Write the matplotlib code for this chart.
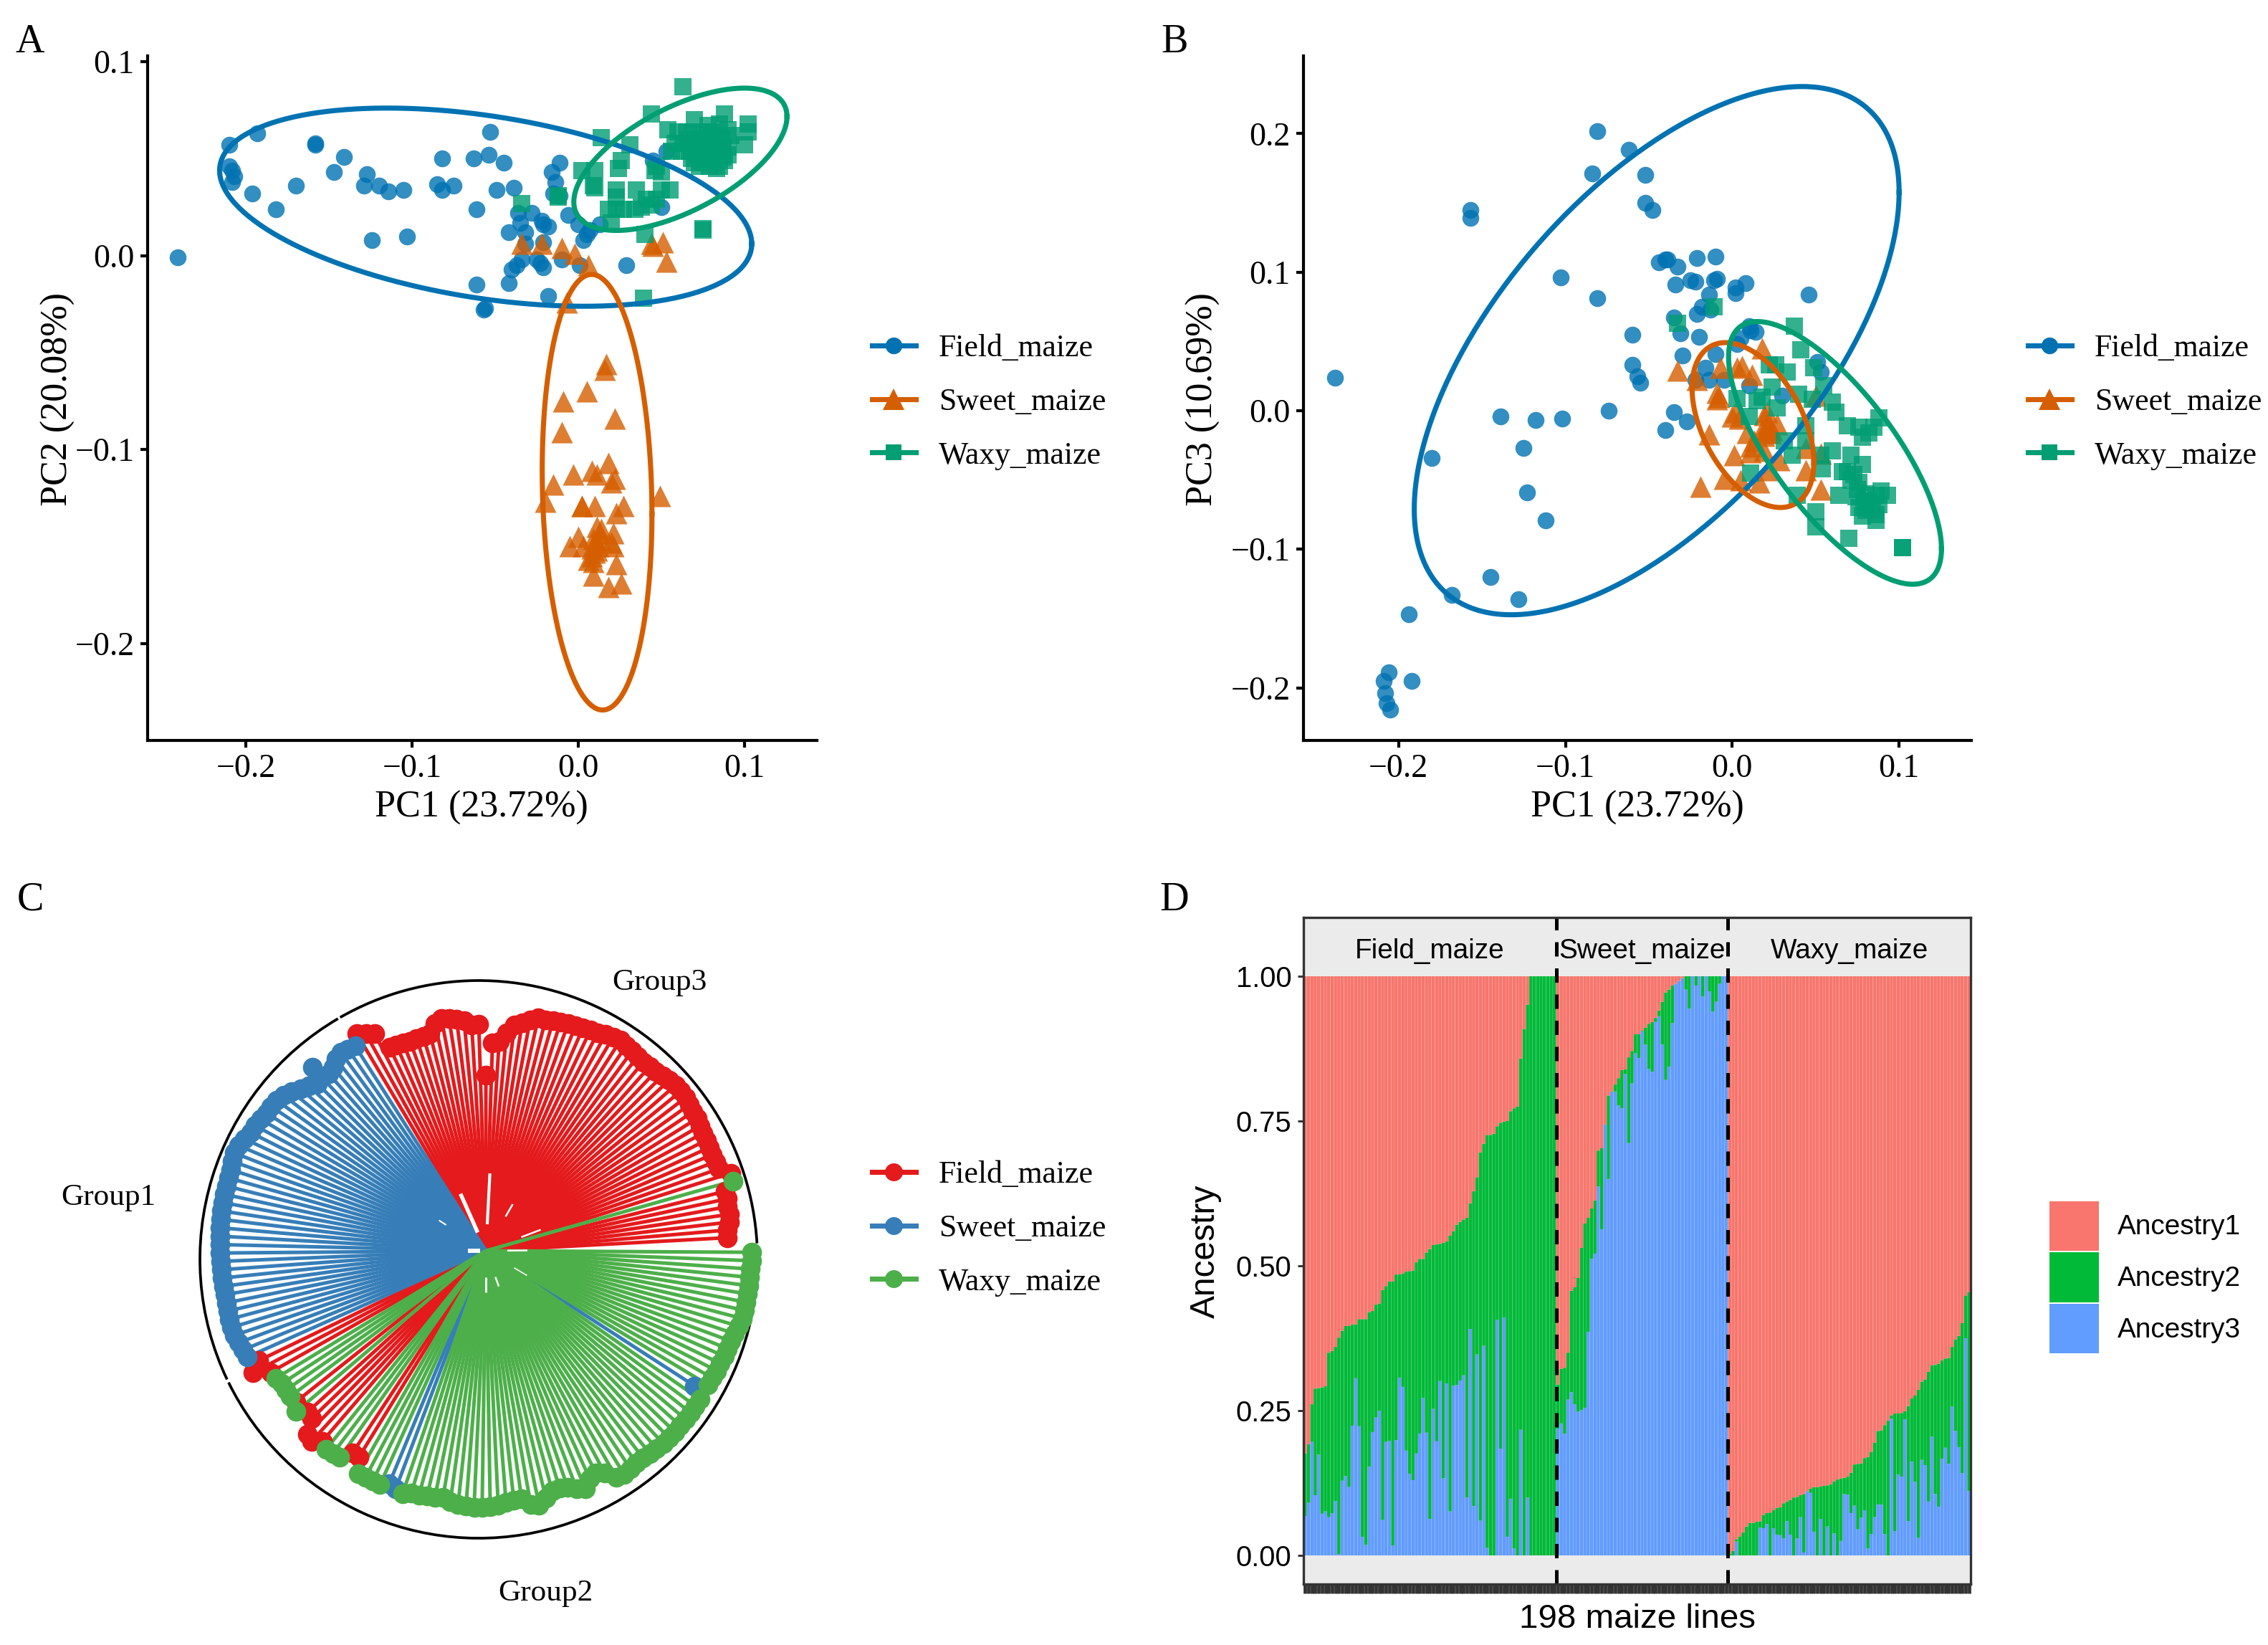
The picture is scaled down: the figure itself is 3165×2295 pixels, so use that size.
import numpy as np
import matplotlib
matplotlib.use('Agg')
import matplotlib.pyplot as plt
from matplotlib.lines import Line2D
from matplotlib.patches import Arc, Patch

SERIF = 'Liberation Serif'
SANS = 'Liberation Sans'
W, H = 3165, 2295

labels = ['Field_maize', 'Sweet_maize', 'Waxy_maize']
pca_colors = ['#0072B2', '#D55E00', '#009E73']
pca_markers = ['o', '^', 's']
pca_sizes = [32, 52, 34]
tree_colors = ['#E41A1C', '#377EB8', '#4DAF4A']
anc_labels = ['Ancestry1', 'Ancestry2', 'Ancestry3']
anc_colors = ['#F8766D', '#00BA38', '#619CFF']

# PC1 / PC2 scores
field_pc12 = [(-.241, -.001), (-.193, .063), (-.210, .057), (-.158, .057), (-.158, .058), (-.210, .046),
              (-.208, .044), (-.207, .041), (-.208, .038), (-.196, .032), (-.182, .024), (-.170, .036),
              (-.147, .043), (-.141, .051), (-.127, .042), (-.129, .036), (-.120, .036), (-.114, .033),
              (-.105, .034), (-.124, .008), (-.103, .010), (-.082, .050), (-.063, .050), (-.054, .052),
              (-.045, .048), (-.053, .064), (-.085, .037), (-.082, .034), (-.075, .036), (-.049, .034),
              (-.039, .035), (-.061, .024), (-.011, .048), (-.016, .043), (-.014, .038), (-.015, .032),
              (-.011, .031), (-.036, .022), (-.028, .022), (-.035, .017), (-.022, .018), (-.021, .016),
              (-.018, .015), (-.042, .012), (-.032, .012), (-.006, .021), (.000, .016), (.013, .016),
              (.007, .013), (.005, .011), (.003, .008), (-.021, .007), (-.032, .006), (-.034, -.002),
              (-.037, -.005), (-.040, -.007), (-.025, -.002), (-.023, -.004), (-.021, -.006), (-.010, -.002),
              (.001, -.005), (.029, -.005), (-.061, -.015), (-.042, -.014), (-.057, -.028), (-.056, -.027),
              (-.018, -.021), (.045, .049), (.053, .054), (.050, .025)]
sweet_pc12 = [(.017, -.056), (.016, -.059), (.005, -.070), (-.009, -.075), (.022, -.084), (-.010, -.091),
              (.018, -.107), (.008, -.111), (.011, -.113), (-.003, -.113), (.022, -.115), (.020, -.117),
              (-.015, -.118), (.049, -.124), (-.020, -.127), (.002, -.129), (.002, -.129), (.010, -.129),
              (.027, -.129), (.023, -.133), (.011, -.140), (.014, -.141), (.013, -.143), (.021, -.143),
              (.000, -.145), (-.005, -.150), (.003, -.150), (.011, -.148), (.014, -.147), (.020, -.148),
              (.021, -.150), (.008, -.151), (.011, -.152), (.008, -.155), (.006, -.157), (.009, -.158),
              (.023, -.159), (.009, -.165), (.018, -.171), (.026, -.169), (-.034, .006), (-.022, .006),
              (-.010, .004), (-.002, .001), (.006, -.005), (-.007, -.024), (.044, .006), (.045, .005),
              (.051, .007), (.053, -.003), (.009, -.146), (.012, -.150), (.010, -.153)]
waxy_pc12 = [(.063, .087), (.044, .073), (.014, .061), (.031, .057), (.026, .049), (.024, .045),
             (.002, .044), (.010, .044), (.009, .036), (.010, .035), (.023, .034), (.023, .030),
             (.035, .034), (.050, .034), (.055, .034), (.046, .044), (.050, .043), (.047, .046),
             (.018, .024), (.023, .024), (.027, .024), (.034, .024), (.038, .025), (.041, .029),
             (.044, .026), (.047, .029), (.020, .017), (.040, .011), (.075, .014), (.075, .013),
             (.070, .070), (.088, .073), (.102, .068), (.100, .057), (.102, .064), (.054, .065),
             (.060, .064), (.065, .064), (.069, .063), (.075, .064), (.080, .064), (.085, .068),
             (.090, .065), (.092, .062), (.075, .059), (.069, .058), (.080, .059), (.087, .056),
             (.056, .054), (.062, .054), (.067, .054), (.075, .054), (.080, .054), (.087, .051),
             (.070, .048), (.075, .048), (.082, .048), (.085, .046), (.088, .049), (.078, .051),
             (.072, .052), (-.034, .027), (-.012, .030), (-.012, .031), (.039, -.022),
             (.058, .058), (.063, .058), (.073, .056), (.083, .056), (.090, .056), (.068, .050),
             (.073, .046), (.079, .046), (.085, .050), (.090, .052), (.082, .062), (.078, .067),
             (.072, .060), (.066, .060), (.086, .060), (.083, .045)]

# PC1 / PC3 scores
field_pc13 = [(-.081, .2016), (-.062, .188), (-.084, .171), (-.052, .170), (-.052, .150), (-.048, .145),
              (-.157, .145), (-.157, .139), (-.103, .096), (-.081, .081), (-.044, .107), (-.040, .109),
              (-.039, .109), (-.033, .104), (-.021, .110), (-.010, .111), (-.034, .091), (-.025, .094),
              (-.022, .093), (-.011, .094), (-.009, .095), (.002, .089), (.002, .085), (.008, .092),
              (-.014, .084), (-.018, .075), (-.021, .070), (-.013, .073), (-.035, .067), (-.031, .056),
              (-.020, .053), (-.060, .055), (-.030, .040), (-.060, .033), (-.057, .025), (-.055, .020),
              (-.010, .041), (-.016, .031), (-.022, .022), (-.014, .022), (-.005, .022), (.010, .061),
              (.011, .058), (.014, .057), (.005, .052), (.003, .048), (.046, .084), (.051, .035),
              (.053, .028), (.010, .018), (.030, .011), (-.035, -.001), (-.027, -.008), (-.040, -.014),
              (-.074, .000), (-.139, -.004), (-.118, -.007), (-.102, -.006), (-.125, -.027), (-.180, -.034),
              (-.123, -.059), (-.112, -.079), (-.145, -.120), (-.168, -.133), (-.128, -.136), (-.194, -.147),
              (-.206, -.189), (-.209, -.195), (-.192, -.195), (-.208, -.204), (-.207, -.211), (-.205, -.216),
              (-.238, .024)]
sweet_pc13 = [(.018, .045), (-.007, .031), (.006, .032), (.003, .031), (.012, .026), (-.033, .029),
              (-.021, .022), (.050, .011), (-.009, .013), (-.008, .010), (-.009, .008), (.002, -.001),
              (.000, -.004), (.021, -.001), (.019, -.003), (.027, -.010), (.021, -.013), (.020, -.016),
              (.023, -.016), (.009, -.016), (-.014, -.017), (.011, -.026), (.011, -.030), (.001, -.032),
              (.019, -.029), (.028, -.036), (.044, -.043), (.044, -.027), (.053, -.031), (-.005, -.049),
              (.005, -.050), (.016, -.052), (.022, -.043), (-.019, -.055), (.053, -.057), (.022, -.012),
              (.021, -.010), (.018, -.014), (.024, -.014), (.019, -.018), (.013, -.022), (.004, -.006)]
waxy_pc13 = [(-.011, .075), (-.033, .063), (.037, .061), (.041, .044), (.022, .033), (.026, .033),
             (.033, .028), (.049, .031), (.055, .018), (.024, .017), (.003, .009), (.018, .010),
             (.015, .007), (.027, .002), (.040, .012), (.048, .008), (.060, .006), (.062, -.001),
             (.010, -.004), (.088, -.005), (.069, -.011), (.076, -.012), (.085, -.012), (.082, -.016),
             (.078, -.019), (.044, -.011), (.044, -.022), (.031, -.022), (.036, -.032), (.060, -.029),
             (.053, -.032), (.071, -.032), (.054, -.042), (.011, -.045), (.078, -.039), (.066, -.044),
             (.073, -.046), (.076, -.052), (.075, -.057), (.039, -.061), (.064, -.061), (.089, -.058),
             (.093, -.061), (.086, -.061), (.076, -.070), (.084, -.071), (.078, -.076), (.086, -.075),
             (.086, -.079), (.050, -.073), (.050, -.084), (.070, -.092), (.102, -.099), (.102, -.099),
             (.079, -.065), (.082, -.066), (.080, -.072), (.088, -.068), (.074, -.062), (.071, -.050),
             (.069, -.044), (.080, -.060)]

# confidence ellipses: centre x, centre y, half range x, half range y, correlation
ellipses_pc12 = [(-.0557, .025, .160, .0511, -.37), (.0113, -.122, .033, .1123, -.10), (.0614, .0497, .0641, .0367, .60)]
ellipses_pc13 = [(-.0453, .0433, .1453, .1906, .60), (.0124, -.0104, .0365, .0595, -.45), (.0616, -.0305, .0638, .0948, -.73)]

# tree tips, going counter clockwise from the gap at the right
tip_group_runs = [(0, 7), (2, 1), (0, 58), (1, 46), (0, 3), (2, 4), (0, 1), (2, 1), (0, 5), (2, 3),
                  (0, 2), (2, 4), (1, 2), (2, 42), (1, 1), (2, 18)]
tip_radius = [337, 338, 342, 344, 343, 345, 344, 358, 359, 345,
              344, 343, 344, 344, 345, 346, 348, 348, 350, 351,
              352, 352, 350, 347, 344, 344, 343, 344, 346, 347,
              349, 347, 345, 342, 341, 339, 338, 337, 336, 334,
              333, 333, 328, 322, 318, 305, 293, 290, 245, 316,
              316, 322, 326, 328, 330, 325, 313, 311, 311, 311,
              312, 313, 314, 340, 346, 353, 339, 341, 343, 340,
              333, 330, 352, 331, 338, 343, 350, 356, 360, 361,
              361, 364, 366, 367, 371, 375, 377, 375, 373, 373,
              373, 373, 373, 373, 373, 372, 372, 371, 371, 370,
              370, 370, 369, 369, 369, 370, 371, 371, 370, 368,
              366, 364, 352, 367, 345, 343, 340, 340, 340, 339,
              347, 335, 337, 357, 360, 350, 355, 354, 353, 338,
              338, 358, 358, 358, 358, 352, 355, 358, 354, 354,
              352, 351, 349, 353, 356, 357, 358, 358, 357, 355,
              352, 350, 350, 360, 363, 355, 348, 347, 349, 355,
              360, 350, 346, 352, 365, 367, 365, 363, 363, 364,
              365, 366, 366, 366, 365, 365, 365, 364, 364, 347,
              362, 362, 363, 363, 364, 364, 365, 366, 368, 370,
              370, 370, 370, 370, 370, 370, 371, 371]
group_names = ['Group3', 'Group1', 'Group2']
group_arcs = [(3.3, 119.8), (120.3, 205.5), (206.2, 362.5)]
# white slivers near the root: angle, inner radius, outer radius, width
tree_slivers = [(87, 37, 108, 1.0), (114, 28, 87, 1.3), (60, 55, 75, 0.6), (21, 53, 82, 0.6),
                (147, 66, 78, 0.5), (180, 8, 25, 1.4), (270, 37, 58, 0.7), (290, 39, 53, 0.6),
                (329, 46, 67, 0.4), (0.5, 30, 58, 0.6)]

# ancestry: top of Ancestry3 and top of Ancestry2 in the stack, per line
field_anc3 = [.068, .091, .196, .104, .174, .072, .076, .066, .073, .094,
              .002, .129, .137, .118, .224, .306, .223, .032, .018, .153,
              .213, .238, .250, .061, .196, .198, .017, .199, .307, .291,
              .181, .141, .130, .176, .210, .272, .212, .063, .253, .197,
              .301, .133, .297, .076, .293, .294, .302, .311, .100, .391,
              .085, .347, .060, .362, .013, 0, 0, .407, .184, .411,
              .032, .098, .012, 0, .217, 0, .100, 0, 0, 0,
              0, 0, 0, 0, 0]
field_anc2 = [.176, .192, .261, .288, .289, .290, .292, .350, .353, .360,
              .376, .388, .396, .396, .399, .399, .408, .408, .408, .420,
              .422, .433, .435, .458, .465, .473, .473, .485, .485, .487,
              .490, .491, .492, .506, .512, .512, .523, .529, .536, .537,
              .538, .540, .542, .552, .560, .571, .576, .580, .583, .608,
              .629, .653, .696, .711, .726, .726, .728, .741, .747, .749,
              .750, .767, .772, .775, .858, .909, .951, 1, 1, 1,
              1, 1, 1, 1, 1]
sweet_anc3 = [.219, .228, .210, .269, .282, .261, .248, .251, .255, .386,
              .512, .521, .637, .563, .744, .650, .800, .801, .777, .772,
              .831, .712, .815, .867, .859, .905, .882, .840, .835, .921,
              .931, .882, .821, .844, .919, .987, .992, .997, .977, .944,
              1, .984, 1, .965, 1, .974, .939, .956, .987, 1,
              1]
sweet_anc2 = [.295, .322, .324, .350, .457, .463, .479, .531, .573, .583,
              .599, .613, .699, .703, .744, .794, .801, .813, .824, .838,
              .839, .860, .871, .900, .900, .906, .911, .918, .921, .928,
              .941, .956, .972, .977, .984, .987, .992, .997, 1, 1,
              1, 1, 1, 1, 1, 1, 1, 1, 1, 1,
              1]
waxy_anc3 = [0, 0, .024, 0, 0, 0, 0, 0, 0, .048,
             .047, .054, 0, .047, .036, .035, .029, .059, .036, 0,
             .029, .066, .005, .111, .108, .041, 0, .063, 0, .050,
             0, .038, 0, .025, .106, .105, .073, .086, .045, .065,
             .078, .012, .037, .066, .088, .088, .037, 0, .236, .042,
             .140, .136, .235, .059, .162, .127, .030, .165, .156, .093,
             .205, .106, .084, .167, .186, .158, .257, .215, .187, .142,
             .375, .111]
waxy_anc2 = [.003, .008, .028, .033, .040, .050, .056, .056, .058, .059,
             .070, .073, .074, .078, .082, .083, .090, .093, .096, .100,
             .101, .104, .106, .111, .115, .118, .118, .119, .120, .121,
             .123, .128, .131, .133, .134, .136, .143, .157, .158, .159,
             .168, .170, .179, .195, .215, .216, .225, .233, .242, .245,
             .245, .246, .249, .258, .271, .276, .286, .300, .304, .317,
             .328, .329, .331, .337, .340, .341, .360, .373, .379, .401,
             .448, .455]

fig = plt.figure(figsize=(W / 300, H / 300), dpi=300)


def add_axes(left, top, right, bottom):
    return fig.add_axes([left / W, 1 - bottom / H, (right - left) / W, (bottom - top) / H])


def fig_text(x, y, s, **kw):
    fig.text(x / W, 1 - y / H, s, ha='center', va='center', **kw)


def pca_panel(ax, groups, ellipses, xlim, ylim, yticks):
    for i, pts in enumerate(groups):
        xy = np.array(pts)
        ax.scatter(xy[:, 0], xy[:, 1], s=pca_sizes[i], marker=pca_markers[i], color=pca_colors[i],
                   alpha=0.8, linewidths=0, zorder=2)
    t = np.linspace(0, 2 * np.pi, 300)
    for i, (cx, cy, dx, dy, r) in enumerate(ellipses):
        ax.plot(cx + dx * np.cos(t), cy + dy * (r * np.cos(t) + np.sqrt(1 - r ** 2) * np.sin(t)),
                color=pca_colors[i], lw=1.7, zorder=3)
    ax.set_xlim(xlim)
    ax.set_ylim(ylim)
    ax.set_xticks([-0.2, -0.1, 0.0, 0.1])
    ax.set_yticks(yticks)
    ax.spines[['top', 'right']].set_visible(False)
    ax.spines[['left', 'bottom']].set_linewidth(1.0)
    ax.tick_params(length=2.4, width=1.0, labelsize=11, pad=2)
    for lab in ax.get_xticklabels() + ax.get_yticklabels():
        lab.set_fontfamily(SERIF)


def line_legend(x, y, colors, marker_list, sizes):
    handles = [Line2D([], [], color=c, lw=1.7, marker=m, ms=ms, mew=0)
               for c, m, ms in zip(colors, marker_list, sizes)]
    fig.legend(handles, labels, loc='center left', bbox_to_anchor=(x / W, 1 - y / H), frameon=False,
               prop={'family': SERIF, 'size': 10.5}, handlelength=1.39, handletextpad=0.733,
               borderpad=0, borderaxespad=0, labelspacing=0.79)


# panel A
ax_a = add_axes(206, 78, 1140, 1033)
pca_panel(ax_a, [field_pc12, sweet_pc12, waxy_pc12], ellipses_pc12, (-.259, .1435), (-.25, .103),
          [-0.2, -0.1, 0.0, 0.1])
fig_text(672, 1127, 'PC1 (23.72%)', fontsize=12.5, fontfamily=SERIF)
fig_text(81, 557, 'PC2 (20.08%)', rotation=90, fontsize=12.5, fontfamily=SERIF)
line_legend(1217, 561, pca_colors, pca_markers, [5.6, 7, 5.4])

# panel B
ax_b = add_axes(1819, 78, 2751, 1033)
pca_panel(ax_b, [field_pc13, sweet_pc13, waxy_pc13], ellipses_pc13, (-.257, .1433), (-.238, .256),
          [-0.2, -0.1, 0.0, 0.1, 0.2])
fig_text(2285, 1127, 'PC1 (23.72%)', fontsize=12.5, fontfamily=SERIF)
fig_text(1679, 557, 'PC3 (10.69%)', rotation=90, fontsize=12.5, fontfamily=SERIF)
line_legend(2830, 561, pca_colors, pca_markers, [5.6, 7, 5.4])

# panel C
ax_c = add_axes(260, 1340, 1080, 2170)
tip_group = np.concatenate([[g] * n for g, n in tip_group_runs])
tip_radius = np.array(tip_radius, dtype=float)
tip_angle = np.radians(3.1 + 1.81 * np.arange(len(tip_radius)))
for g in range(3):
    sel = tip_group == g
    tx = tip_radius[sel] * np.cos(tip_angle[sel])
    ty = tip_radius[sel] * np.sin(tip_angle[sel])
    for x1, y1 in zip(tx, ty):
        ax_c.plot([0, x1], [0, y1], color=tree_colors[g], lw=1.2, solid_capstyle='butt', zorder=1 + g)
for ang, r1, r2, width in tree_slivers:
    a = np.radians(ang)
    ax_c.plot([r1 * np.cos(a), r2 * np.cos(a)], [r1 * np.sin(a), r2 * np.sin(a)], color='white',
              lw=width, solid_capstyle='butt', zorder=4)
for g in range(3):
    sel = tip_group == g
    ax_c.scatter(tip_radius[sel] * np.cos(tip_angle[sel]), tip_radius[sel] * np.sin(tip_angle[sel]),
                 s=44, color=tree_colors[g], linewidths=0, zorder=5 + g)
for a1, a2 in group_arcs:
    ax_c.add_patch(Arc((-10, -12), 778, 778, theta1=a1, theta2=a2, color='black', lw=0.9))
ax_c.set_xlim(-418, 402)
ax_c.set_ylim(-425, 405)
ax_c.axis('off')
for name, (x, y) in zip(group_names, [(920, 1371), (151, 1671), (761, 2223)]):
    fig_text(x, y, name, fontsize=10.4, fontfamily=SERIF)
line_legend(1217, 1714, tree_colors, ['o', 'o', 'o'], [6, 6, 6])

# panel D
ax_d = add_axes(1819, 1280, 2750, 2210)
anc3 = np.array(field_anc3 + sweet_anc3 + waxy_anc3)
anc2 = np.array(field_anc2 + sweet_anc2 + waxy_anc2)
line_x = np.arange(len(anc3))
ax_d.set_facecolor('#EBEBEB')
ax_d.bar(line_x, anc3, width=0.95, color=anc_colors[2], linewidth=0, snap=False)
ax_d.bar(line_x, anc2 - anc3, bottom=anc3, width=0.95, color=anc_colors[1], linewidth=0, snap=False)
ax_d.bar(line_x, 1 - anc2, bottom=anc2, width=0.95, color=anc_colors[0], linewidth=0, snap=False)
n_field, n_sweet = len(field_anc3), len(sweet_anc3)
for edge in [n_field - 0.5, n_field + n_sweet - 0.5]:
    ax_d.axvline(edge, color='black', lw=1.2, dashes=(4.0, 3.3))
ax_d.set_xlim(-0.5, len(anc3) - 0.5)
ax_d.set_ylim(-0.0495, 1.1015)
ax_d.set_xticks(line_x)
ax_d.set_xticklabels([])
ax_d.set_yticks([0, 0.25, 0.5, 0.75, 1.0])
ax_d.set_yticklabels(['0.00', '0.25', '0.50', '0.75', '1.00'], fontfamily=SANS)
ax_d.tick_params(axis='x', length=3, width=1.15, color='#333333')
ax_d.tick_params(axis='y', length=2, width=0.7, color='#333333', labelsize=9.6, pad=2)
for sp in ax_d.spines.values():
    sp.set_linewidth(0.8)
    sp.set_color('#333333')
starts = [0, n_field, n_field + n_sweet, len(anc3)]
for i, name in enumerate(labels):
    ax_d.text((starts[i] + starts[i + 1] - 1) / 2, 1.043, name, ha='center', va='center',
              fontsize=9.3, fontfamily=SANS)
fig_text(1682, 1746, 'Ancestry', rotation=90, fontsize=11.5, fontfamily=SANS)
fig_text(2285, 2259, '198 maize lines', fontsize=11.4, fontfamily=SANS)
fig.legend([Patch(color=c, linewidth=0) for c in anc_colors], anc_labels, loc='center left',
           bbox_to_anchor=(2860 / W, 1 - 1782 / H), frameon=False, prop={'family': SANS, 'size': 9.3},
           handlelength=1.78, handleheight=2.375, handletextpad=0.665, borderpad=0, borderaxespad=0,
           labelspacing=0.06)

for s, x, y in [('A', 42, 59), ('B', 1639, 59), ('C', 42, 1256), ('D', 1639, 1256)]:
    fig_text(x, y, s, fontsize=13.5, fontfamily=SERIF)

fig.savefig('out.png', dpi=300)
